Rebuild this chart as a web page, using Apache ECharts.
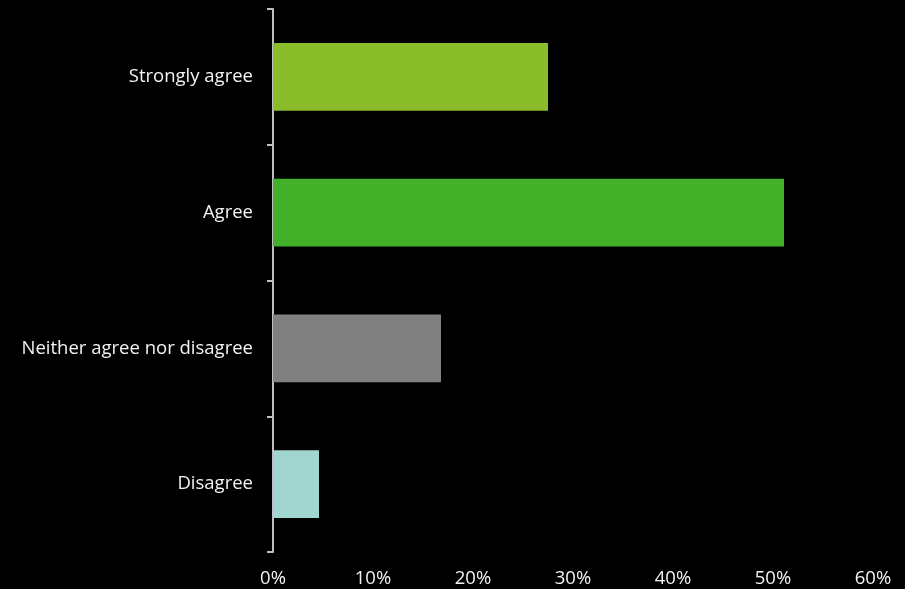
<!DOCTYPE html>
<html><head><meta charset="utf-8">
<script src="https://cdn.jsdelivr.net/npm/echarts@6/dist/echarts.min.js"></script>
<style>html,body{margin:0;padding:0;background:#000;}#c{width:905px;height:589px;}</style>
</head><body><div id="c"></div>
<script>
var categories = ["Strongly agree", "Agree", "Neither agree nor disagree", "Disagree"];
var values = [27.5, 51.1, 16.8, 4.6];
var barColors = ["#8BBC29", "#43B02A", "#808080", "#A1D6D0"];
var xTicks = [0, 10, 20, 30, 40, 50, 60];

var chart = echarts.init(document.getElementById('c'));
chart.setOption({
  backgroundColor: '#000000',
  animation: false,
  grid: {left: 273, right: 32, top: 9, bottom: 37, containLabel: false},
  xAxis: {
    type: 'value', min: xTicks[0], max: xTicks[xTicks.length-1], interval: 10,
    axisLine: {show: false}, axisTick: {show: false}, splitLine: {show: false},
    axisLabel: {color: '#F2F2F2', fontFamily: 'Open Sans', fontSize: 18.5, margin: 17,
      formatter: function(v){ return v + '%'; }}
  },
  yAxis: {
    type: 'category', data: categories, inverse: true,
    axisLine: {show: true, lineStyle: {color: '#BFBFBF', width: 2}},
    axisTick: {show: true, length: 6, lineStyle: {color: '#BFBFBF', width: 2}},
    axisLabel: {color: '#F2F2F2', fontFamily: 'Open Sans', fontSize: 18.5, margin: 20}
  },
  series: [{
    type: 'bar', barWidth: '50%',
    data: values.map(function(v, i){ return {value: v, itemStyle: {color: barColors[i]}}; })
  }]
});
</script></body></html>
